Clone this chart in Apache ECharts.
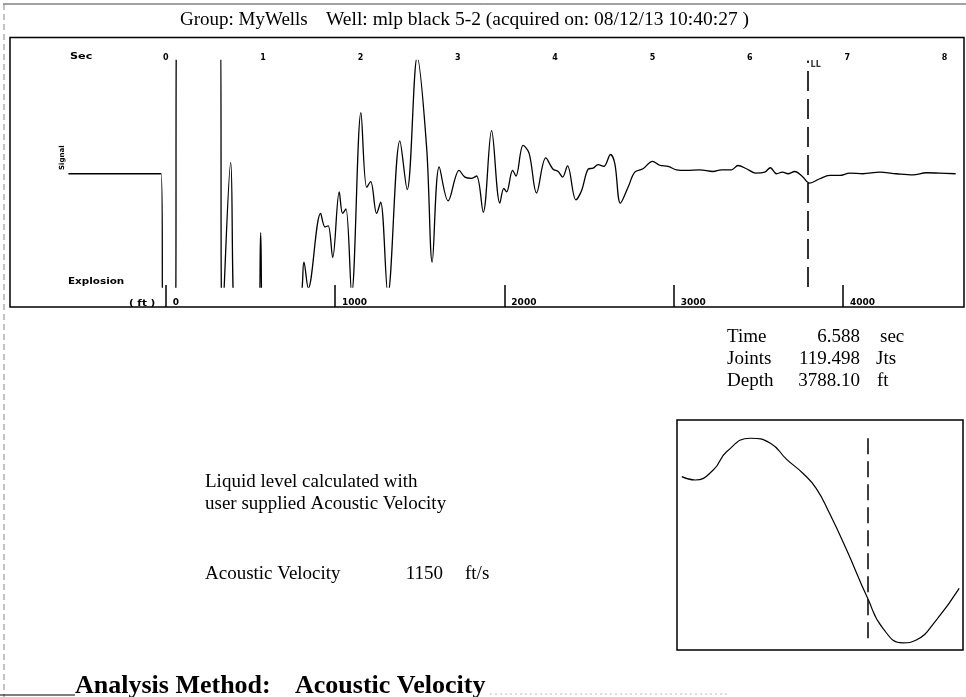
<!DOCTYPE html>
<html><head><meta charset="utf-8">
<script src="https://cdn.jsdelivr.net/npm/echarts@6/dist/echarts.min.js"></script>
<style>html,body{margin:0;padding:0;background:#fff}#c{width:966px;height:697px}</style>
</head><body><div id="c"></div>
<script>
// ---- data ----
const secTicks = [0, 1, 2, 3, 4, 5, 6, 7, 8];
const ftTicks = [0, 1000, 2000, 3000, 4000];
const velocity = 1150;          // ft/s
const llTime = 6.588;           // sec
const llJoints = 119.498;       // Jts
const llDepth = 3788.10;        // ft

const waveTime = [-1.000,-0.048,-0.023,0.090,0.121,0.555,0.581,0.667,0.727,0.948,0.975,1.004,1.374,1.420,1.464,1.591,1.636,1.669,1.715,1.782,1.817,1.851,1.910,2.005,2.064,2.105,2.166,2.207,2.282,2.405,2.480,2.583,2.680,2.737,2.809,2.901,3.014,3.073,3.142,3.193,3.261,3.347,3.432,3.473,3.501,3.563,3.597,3.671,3.733,3.809,3.904,3.979,4.031,4.076,4.127,4.213,4.271,4.339,4.390,4.441,4.500,4.569,4.613,4.671,4.749,4.818,4.903,5.000,5.075,5.160,5.246,5.349,5.486,5.622,5.708,5.811,5.879,5.965,6.061,6.153,6.211,6.273,6.335,6.392,6.461,6.540,6.615,6.718,6.820,6.923,7.025,7.162,7.334,7.505,7.676,7.813,7.950,8.114];
const waveAmp  = [0,0,-150,-150,150,150,-130,10,-140,-140,-52,-140,-115,-78,-101,-35,-47,-46,-74,-16,-35,-31,-106,54,-12,-7,-35,-25,-106,29,-14,103,23,-78,6,-24,3,-3,-4,-2,-34,38,-26,-13,-16,3,-2,25,18,-17,14,4,2,-3,7,-23,-15,4,5,8,6.5,17,9,-26,-12,1.4,4.4,11,7.5,6.5,3.5,3,3.5,2,3.5,3.5,7.3,4.4,0.6,1.4,5.3,0,1.4,0,2,-2.4,-8.3,-4.4,-1.5,-1.5,0.5,0,1.4,0,-1,0.9,0.5,0];

const insetTime = [6.393,6.407,6.426,6.440,6.465,6.486,6.503,6.520,6.534,6.548,6.566,6.588,6.604,6.625,6.639,6.660,6.684];
const insetAmp  = [0.07,-0.10,0.40,1.32,2.00,1.75,0.94,0.24,-0.52,-1.78,-3.63,-6.06,-7.57,-8.30,-8.16,-7.15,-5.56];

// ---- chart ----
const chart = echarts.init(document.getElementById('c'));
const xMin = -1.6, xMax = 8.2;
const ftPerSec = velocity / 2;
const wave = waveTime.map((t, i) => [t, waveAmp[i]]);
const inset = insetTime.map((t, i) => [t, insetAmp[i]]);
const serif = '"Liberation Serif", "Times New Roman", serif';
const sans = '"DejaVu Sans", sans-serif';

function txt(text, x, y, size, opts) {
  opts = opts || {};
  return {
    type: 'text', x: x, y: y, scaleX: opts.sx || 1, rotation: opts.rot || 0, z: 10,
    style: {
      text: text, fill: '#000',
      font: (opts.bold ? 'bold ' : '') + size + 'px ' + (opts.family || serif),
      align: opts.align || 'left', verticalAlign: 'middle',
      textAlign: opts.align || 'left', textVerticalAlign: 'middle'
    }
  };
}
function ln(x1, y1, x2, y2, w, color, dash) {
  return { type: 'line', z: 5, shape: { x1, y1, x2, y2 },
    style: { stroke: color || '#000', lineWidth: w || 1, lineDash: dash || null } };
}

const option = {
  animation: false,
  backgroundColor: '#fff',
  grid: [
    { left: 10, top: 37.5, width: 954, height: 269.5, show: true, borderColor: '#000', borderWidth: 1.5, backgroundColor: 'transparent' },
    { left: 10, top: 60.5, width: 954, height: 226.5 },
    { left: 677, top: 420, width: 286, height: 230, show: true, borderColor: '#000', borderWidth: 1.5, backgroundColor: 'transparent' }
  ],
  xAxis: [
    { gridIndex: 0, type: 'value', position: 'top', min: xMin, max: xMax,
      splitLine: { show: false }, axisLine: { show: false }, axisTick: { show: false },
      axisLabel: { inside: true, margin: 16, customValues: secTicks, fontSize: 8, fontWeight: 'bold', fontFamily: sans, color: '#000' } },
    { gridIndex: 0, type: 'value', position: 'bottom', min: xMin * ftPerSec, max: xMax * ftPerSec,
      splitLine: { show: false }, axisLine: { show: false },
      axisTick: { show: true, inside: true, length: 22, customValues: ftTicks, lineStyle: { color: '#000', width: 1.5 } },
      axisLabel: { inside: true, margin: 0, customValues: ftTicks, formatter: v => String(v), align: 'left', padding: [0, 0, 0, 7],
        fontSize: 9, fontWeight: 'bold', fontFamily: sans, color: '#000' } },
    { gridIndex: 1, type: 'value', min: xMin, max: xMax, show: false },
    { gridIndex: 2, type: 'value', min: llTime - 0.2, max: llTime + 0.1, show: false }
  ],
  yAxis: [
    { gridIndex: 0, type: 'value', min: 0, max: 1, show: false },
    { gridIndex: 1, type: 'value', min: -100, max: 100, show: false },
    { gridIndex: 2, type: 'value', min: -8.66, max: 2.92, show: false }
  ],
  series: [
    { type: 'line', xAxisIndex: 2, yAxisIndex: 1, data: wave, symbol: 'none', showSymbol: false,
      smooth: 0.35, clip: true, lineStyle: { color: '#000', width: 1.3 },
      markLine: { silent: true, symbol: 'none', label: { show: false },
        lineStyle: { color: '#000', width: 1.6, type: [20, 8] }, data: [{ xAxis: llTime }] } },
    { type: 'scatter', xAxisIndex: 2, yAxisIndex: 1, data: [[llTime, 96]], symbolSize: 1,
      itemStyle: { color: 'rgba(0,0,0,0)' },
      label: { show: true, formatter: 'LL', position: 'right', distance: 3, fontSize: 8, fontWeight: 'bold', fontFamily: sans, color: '#000' } },
    { type: 'line', xAxisIndex: 3, yAxisIndex: 2, data: inset, symbol: 'none', showSymbol: false,
      smooth: 0.5, clip: true, lineStyle: { color: '#000', width: 1.2 },
      markLine: { silent: true, symbol: 'none', label: { show: false },
        lineStyle: { color: '#000', width: 1.5, type: [16, 7] },
        data: [[{ coord: [llTime, Math.max(...insetAmp)] }, { coord: [llTime, Math.min(...insetAmp)] }]] } }
  ],
  graphic: [
    ln(3, 4, 966, 4, 1, '#444'),
    ln(4, 4, 4, 697, 1, '#888', [6, 4]),
    ln(0, 695, 75, 695, 1.2, '#000'),
    ln(490, 694, 730, 694, 1, '#bbb', [2, 3]),
    txt('Group: MyWells', 180, 20, 19),
    txt('Well: mlp black 5-2 (acquired on: 08/12/13 10:40:27 )', 326, 20, 19.5),
    txt('Sec', 70, 57, 8, { bold: true, family: sans, sx: 1.4 }),
    txt('Explosion', 68, 282, 8, { bold: true, family: sans, sx: 1.3 }),
    txt('( ft )', 129, 304, 8, { bold: true, family: sans, sx: 1.3 }),
    txt('Signal', 62, 170, 7, { bold: true, family: sans, rot: Math.PI / 2 }),
    txt('Time', 727, 337, 19),
    txt(llTime.toFixed(3), 860, 337, 19, { align: 'right' }),
    txt('sec', 880, 337, 19),
    txt('Joints', 727, 359, 19),
    txt(llJoints.toFixed(3), 860, 359, 19, { align: 'right' }),
    txt('Jts', 876, 359, 19),
    txt('Depth', 727, 381, 19),
    txt(llDepth.toFixed(2), 860, 381, 19, { align: 'right' }),
    txt('ft', 877, 381, 19),
    txt('Liquid level calculated with', 205, 482, 19),
    txt('user supplied Acoustic Velocity', 205, 504, 19),
    txt('Acoustic Velocity', 205, 574, 19),
    txt(String(velocity), 443, 574, 19, { align: 'right' }),
    txt('ft/s', 465, 574, 19),
    txt('Analysis Method:', 75, 686, 26, { bold: true }),
    txt('Acoustic Velocity', 295, 686, 26, { bold: true })
  ]
};
chart.setOption(option);
</script>
</body></html>
